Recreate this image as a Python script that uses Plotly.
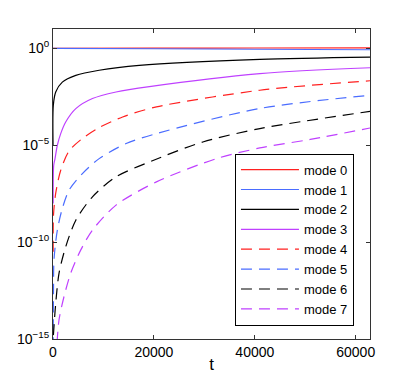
import plotly.graph_objects as go

# values, log10 of each mode
t0 = [0, 20000, 40000, 62832]
m0 = [0.0, 0.01, 0.02, 0.03]

t1 = [0, 20000, 40000, 62832]
m1 = [0.0, -0.02, -0.045, -0.07]

t2 = [10, 60, 540, 1850, 4520, 9150, 17100, 41000, 62832]
m2 = [-5.0, -2.94, -2.25, -1.74, -1.39, -1.13, -0.88, -0.57, -0.45]

t3 = [40, 140, 400, 860, 1530, 2520, 4520, 7820, 12500, 19100, 41000, 62832]
m3 = [-8.0, -6.03, -5.69, -5.0, -4.4, -3.8, -3.11, -2.59, -2.25, -1.97, -1.3, -1.0]

t4 = [40, 100, 540, 1530, 3180, 5830, 9150, 13800, 20500, 41000, 62832]
m4 = [-10.5, -8.6, -7.47, -6.29, -5.3, -4.65, -4.09, -3.54, -3.02, -2.16, -1.67]

t5 = [30, 100, 200, 860, 1850, 3180, 5830, 9150, 14500, 20500, 41000, 62832]
m5 = [-15.5, -12.5, -10.9, -9.38, -8.26, -7.32, -6.46, -5.69, -4.91, -4.4, -3.1, -2.42]

t6 = [80, 540, 1200, 2520, 4520, 7820, 12500, 19700, 29700, 41000, 62832]
m6 = [-14.8, -13.16, -11.6, -10.24, -8.87, -7.66, -6.63, -5.8, -4.83, -4.14, -3.25]

t7 = [800, 1200, 2190, 3520, 5510, 7820, 12500, 20500, 32400, 41000, 51000, 62832]
m7 = [-15.2, -14.0, -12.8, -11.6, -10.4, -9.38, -8.09, -6.89, -5.69, -5.14, -4.7, -4.11]

names = ["mode 0", "mode 1", "mode 2", "mode 3", "mode 4", "mode 5", "mode 6", "mode 7"]
colors = ["#ff2020", "#4a6cff", "#000000", "#bf40ff"] * 2
dashes = ["solid"] * 4 + ["11px,7px"] * 4

series = [(t0, m0), (t1, m1), (t2, m2), (t3, m3), (t4, m4), (t5, m5), (t6, m6), (t7, m7)]

fig = go.Figure()
for i, (t, m) in enumerate(series):
    fig.add_trace(go.Scatter(
        x=t, y=[10 ** v for v in m], name=names[i], mode="lines",
        line=dict(color=colors[i], width=1.2, dash=dashes[i], shape="spline", smoothing=0.8),
    ))

# page body has an 8px margin, so the figure is sized/offset to compensate
fig.update_layout(
    width=393, height=366,
    margin=dict(l=45, r=31, t=21, b=35),
    paper_bgcolor="white", plot_bgcolor="white",
    font=dict(family="Liberation Sans, Arial", size=14, color="black"),
    legend=dict(x=0.574, xanchor="left", y=0.043, yanchor="bottom",
                bordercolor="black", borderwidth=1, bgcolor="white",
                font=dict(size=13), tracegroupgap=0, itemwidth=58),
)
fig.update_xaxes(range=[0, 62832], tickvals=[0, 20000, 40000, 60000],
                 ticktext=["0", "20000", "40000", "60000"],
                 showline=True, linecolor="#333", linewidth=1, mirror="ticks",
                 ticks="inside", ticklen=4, tickcolor="#333", showgrid=False, zeroline=False,
                 automargin=False, title=dict(text="t", standoff=6))
fig.update_yaxes(type="log", range=[-15, 1],
                 tickvals=[1e-15, 1e-10, 1e-5, 1],
                 ticktext=["10<sup>−15</sup>", "10<sup>−10</sup>", "10<sup>−5</sup>", "10<sup>0</sup>"],
                 showline=True, linecolor="#333", linewidth=1, mirror="ticks",
                 ticks="inside", ticklen=4, tickcolor="#333", showgrid=False, zeroline=False,
                 automargin=False)

fig.write_html("out.html")
